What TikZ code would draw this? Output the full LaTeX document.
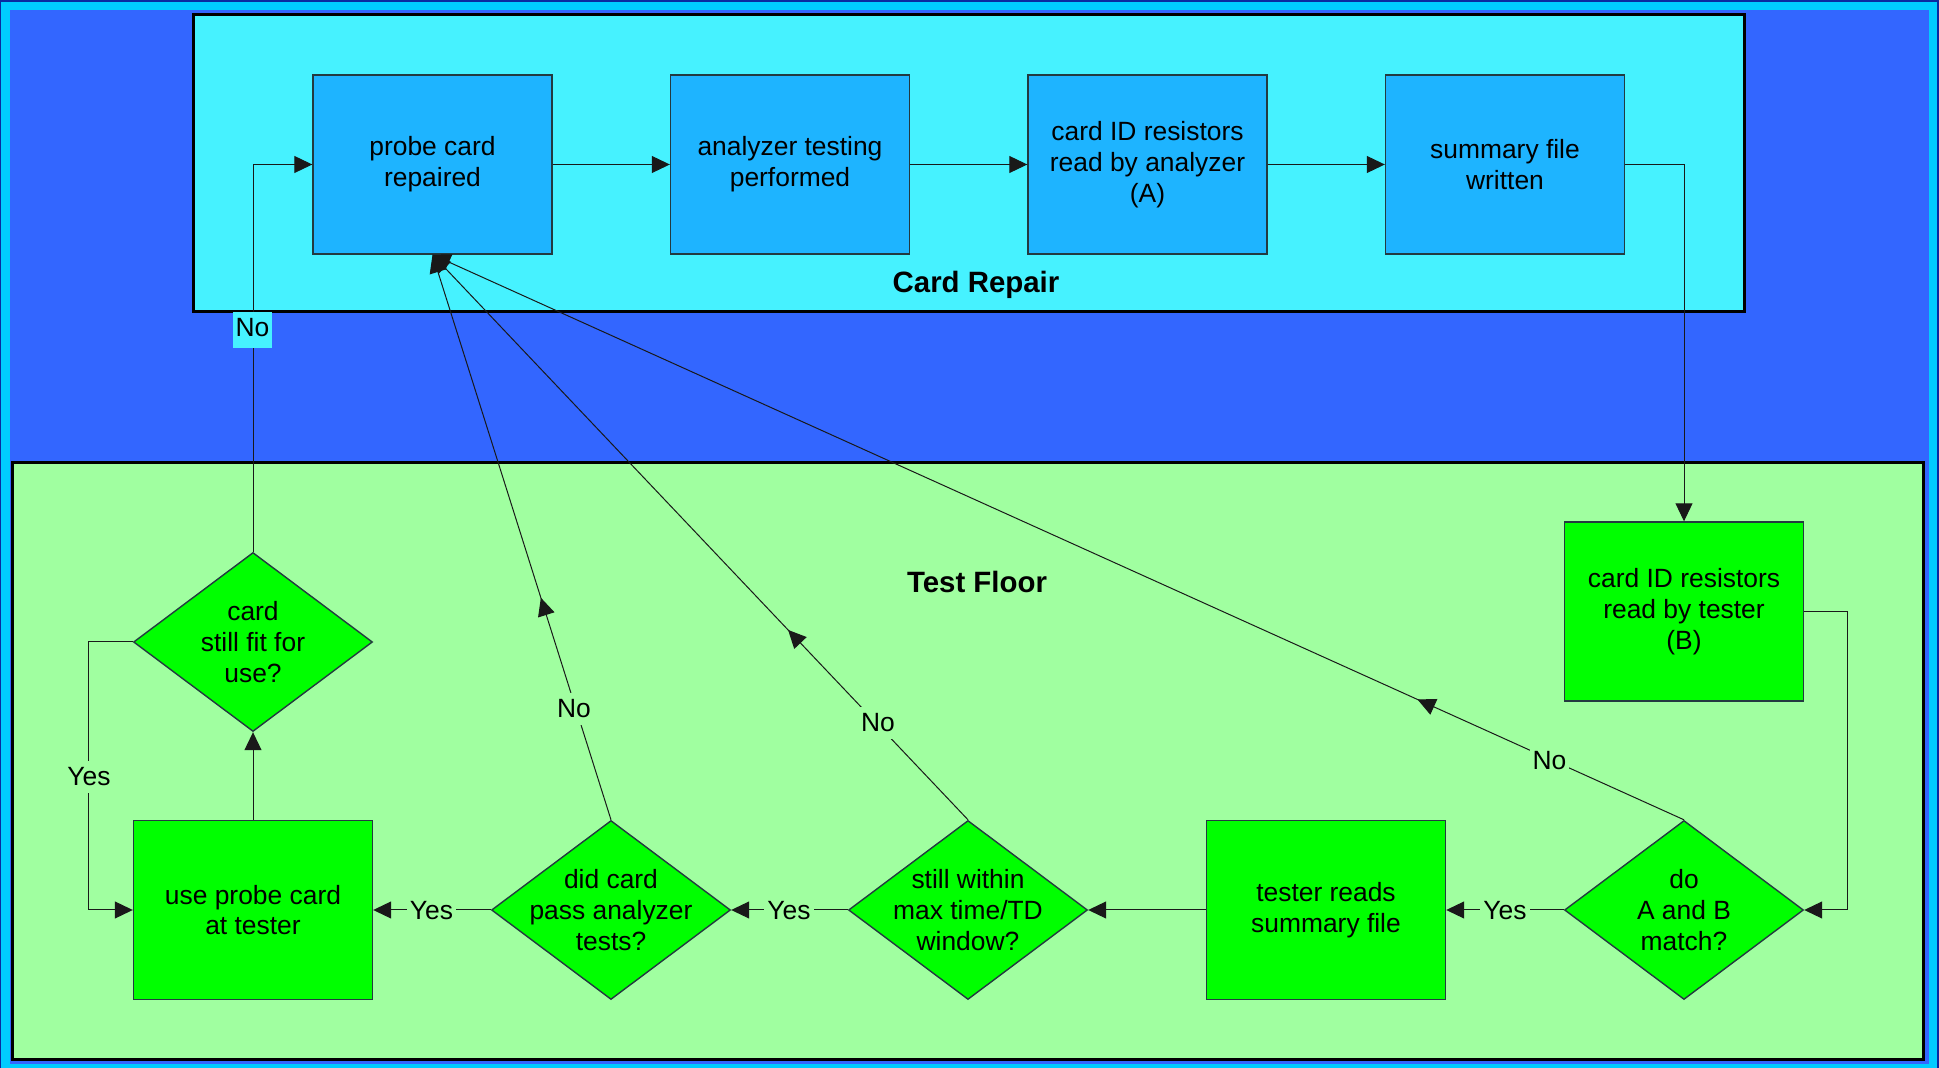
\documentclass[tikz,border=0pt]{standalone}
\usepackage{fontspec}
\setmainfont{Liberation Sans}
\usetikzlibrary{arrows.meta,shapes.geometric,decorations.markings}
\definecolor{darkframe}{HTML}{0A2AA0}
\definecolor{cyanframe}{HTML}{00CCFF}
\definecolor{bgblue}{HTML}{3366FF}
\definecolor{repairfill}{HTML}{46F2FF}
\definecolor{topfill}{HTML}{1EB4FF}
\definecolor{floorfill}{HTML}{A0FFA0}
\definecolor{greenfill}{HTML}{00FF00}
\definecolor{edgecol}{HTML}{233A40}
\begin{document}
\begin{tikzpicture}[x=0.5pt,y=-0.5pt,
  font=\fontsize{13.2}{15.4}\selectfont,
  tipstyle/.style={-{Triangle[length=9pt,width=8.5pt]}},
  conn/.style={draw=black!90,line width=0.5pt},
  container/.style={draw=black,line width=1.5pt},
  topbox/.style={rectangle,draw=edgecol,line width=0.7pt,fill=topfill,minimum width=119.5pt,minimum height=89.5pt,inner sep=0pt,align=center},
  floorbox/.style={rectangle,draw=edgecol,line width=0.7pt,fill=greenfill,minimum width=119.5pt,minimum height=89.5pt,inner sep=0pt,align=center},
  decision/.style={diamond,draw=edgecol,line width=0.7pt,fill=greenfill,minimum width=119.5pt,minimum height=89.5pt,inner sep=0pt},
  dtext/.style={align=center,inner sep=0pt},
  lbl/.style={fill=floorfill,inner xsep=1.5pt,inner ysep=3.5pt},
  midtip/.style={postaction={decorate},decoration={markings,mark=at position #1 with {\arrow{Triangle[length=9pt,width=8.5pt]}}}},
  title/.style={font=\bfseries\fontsize{14.7}{17}\selectfont,anchor=base}
]
\useasboundingbox (0,0) rectangle (1939,1068);
% frame and background
\fill[darkframe] (0,0) rectangle (1939,1068);
\fill[cyanframe] (1,2) rectangle (1937,1068);
\fill[bgblue] (10,10) rectangle (1929,1064);
% containers
\draw[container,fill=repairfill] (193,15) rectangle (1744,312);
\draw[container,fill=floorfill] (12.5,462.5) rectangle (1923.5,1059);
\node[title] (trepair) at (976,292.7) {Card Repair};
\node[title] (tfloor) at (977,592.3) {Test Floor};
% top row
\node[topbox] (pr) at (432.5,164.5) {probe card\\repaired};
\node[topbox] (an) at (790,164.5) {analyzer testing\\performed};
\node[topbox] (ca) at (1147.5,164.5) {card ID resistors\\read by analyzer\\(A)};
\node[topbox] (sf) at (1505,164.5) {summary file\\written};
% test floor
\node[floorbox] (tb) at (1684,611.5) {card ID resistors\\read by tester\\(B)};
\node[decision] (dm) at (1684,910) {};
\node[dtext] (dmt) at (dm.center) {do\\A and B\\match?};
\node[floorbox] (tr) at (1326,910) {tester reads\\summary file};
\node[decision] (sw) at (968,910) {};
\node[dtext] (swt) at (sw.center) {still within\\max time/TD\\window?};
\node[decision] (dc) at (611,910) {};
\node[dtext] (dct) at (dc.center) {did card\\pass analyzer\\tests?};
\node[floorbox] (up) at (253,910) {use probe card\\at tester};
\node[decision] (fit) at (253,642) {};
\node[dtext] (fitt) at (fit.center) {card\\still fit for\\use?};
% connectors
\draw[conn,tipstyle] (pr.east) -- (an.west);
\draw[conn,tipstyle] (an.east) -- (ca.west);
\draw[conn,tipstyle] (ca.east) -- (sf.west);
\draw[conn,tipstyle] (sf.east) -| (tb.north);
\draw[conn,tipstyle] (tb.east) -- ++(43.5,0) |- (dm.east);
\draw[conn,tipstyle] (dm.west) -- (tr.east);
\draw[conn,tipstyle] (tr.west) -- (sw.east);
\draw[conn,tipstyle] (sw.west) -- (dc.east);
\draw[conn,tipstyle] (dc.west) -- (up.east);
\draw[conn,tipstyle] (up.north) -- (fit.south);
\draw[conn,tipstyle] (fit.west) -- ++(-44.5,0) |- (up.west);
\draw[conn,tipstyle] (fit.north) |- (pr.west);
\draw[conn,tipstyle,midtip=0.393] (dc.north) -- (pr.south);
\draw[conn,tipstyle,midtip=0.336] (sw.north) -- (pr.south);
\draw[conn,tipstyle,midtip=0.213] (dm.north) -- (pr.south);
% labels
\node[lbl] (l1) at (1505,911) {Yes};
\node[lbl] (l2) at (789,911) {Yes};
\node[lbl] (l3) at (431.5,911) {Yes};
\node[lbl] (l4) at (89,777) {Yes};
\node[fill=repairfill,inner xsep=1.3pt,inner ysep=2pt,text height=10.2pt,text depth=3.5pt,anchor=base] (l5) at (252.5,336.7) {No};
\node[lbl] (l6) at (574,709) {No};
\node[lbl] (l7) at (878,723) {No};
\node[lbl] (l8) at (1549.5,760.5) {No};
\end{tikzpicture}
\end{document}
